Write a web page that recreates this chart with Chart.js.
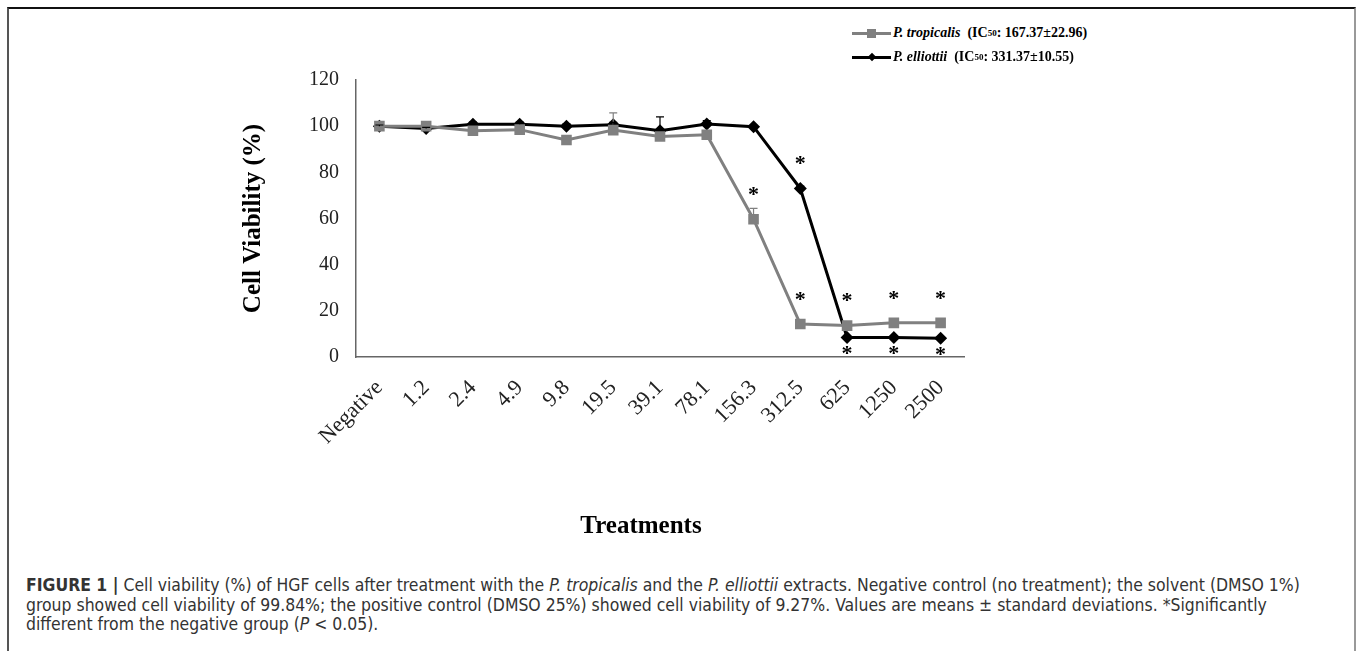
<!DOCTYPE html>
<html>
<head>
<meta charset="utf-8">
<script src="https://cdn.jsdelivr.net/npm/chart.js@4.4.1/dist/chart.umd.min.js"></script>
<style>
  body { margin: 0; background: #fff; }
  #wrap { position: relative; width: 1357px; height: 651px; overflow: hidden; background: #fff; }
  #frame { position: absolute; left: 7px; top: 7px; width: 1349px; height: 700px; box-sizing: border-box;
           border-top: 2px solid #111; border-left: 2px solid #555; border-right: 2px solid #999; }
  #cv { position: absolute; left: 235px; top: 51px; }
  .leg { position: absolute; left: 852px; height: 20px; display: flex; align-items: center;
         font: bold 14px "Liberation Serif", "Times New Roman", serif; color: #000; white-space: nowrap; }
  .leg .smp { position: relative; width: 39px; height: 3px; margin-right: 2px; }
  .leg .mk { position: absolute; left: 50%; top: 50%; }
  .leg sub { font-size: 9px; vertical-align: -2px; line-height: 0; }
  #xt { position: absolute; left: 641px; top: 525px; transform: translate(-50%, -50%);
        font: bold 25px "Liberation Serif", "Times New Roman", serif; color: #000; white-space: nowrap; }
  #cap { position: absolute; left: 26px; top: 576px; transform-origin: 0 0;
         font: 17px "Liberation Sans Narrow", "DejaVu Sans Condensed", "Liberation Sans", sans-serif;
         color: #333; line-height: 19.5px; white-space: nowrap; }
</style>
</head>
<body>
<div id="wrap">
  <div id="frame"></div>
  <canvas id="cv" width="761" height="479"></canvas>
  <div class="leg" style="top:23px">
    <span class="smp" style="background:#808080"><span class="mk" style="width:9px;height:9px;margin:-4.5px 0 0 -4.5px;background:#808080"></span></span>
    <i>P. tropicalis</i>&nbsp; (IC<sub>50</sub>: 167.37±22.96)
  </div>
  <div class="leg" style="top:47px">
    <span class="smp" style="background:#000"><span class="mk" style="width:6px;height:6px;margin:-3px 0 0 -3px;background:#000;transform:rotate(45deg)"></span></span>
    <i>P. elliottii</i>&nbsp; (IC<sub>50</sub>: 331.37±10.55)
  </div>
  <div id="xt">Treatments</div>
  <div id="cap">
    <div id="cap1"><b>FIGURE 1 |</b> Cell viability (%) of HGF cells after treatment with the <i>P. tropicalis</i> and the <i>P. elliottii</i> extracts. Negative control (no treatment); the solvent (DMSO 1%)</div>
    <div>group showed cell viability of 99.84%; the positive control (DMSO 25%) showed cell viability of 9.27%. Values are means ± standard deviations. *Significantly</div>
    <div>different from the negative group (<i>P</i> &lt; 0.05).</div>
  </div>
</div>
<script>
const treatments = ['Negative', '1.2', '2.4', '4.9', '9.8', '19.5', '39.1', '78.1', '156.3', '312.5', '625', '1250', '2500'];
const tropicalis    = [100, 100, 98, 98.5, 94, 98.3, 95.5, 96.3, 59.7, 14.3, 13.6, 14.8, 14.8];
const tropicalisErr = [0.5, 0.5, 1, 1, 1, 7.5, 1, 1, 4.7, 1, 1, 1, 1];
const tropicalisSig = ['', '', '', '', '', '', '', '', 'up', 'up', 'up', 'up', 'up'];
const elliottii     = [100, 99, 100.8, 100.8, 100, 100.6, 98, 100.9, 99.8, 73, 8.5, 8.5, 8.1];
const elliottiiErr  = [0.5, 0.5, 1, 1, 1, 1, 6, 1.5, 0.5, 1, 0.5, 0.5, 0.5];
const elliottiiSig  = ['', '', '', '', '', '', '', '', '', 'up', 'down', 'down', 'down'];
const yTicks = [0, 20, 40, 60, 80, 100, 120];

const SERIF = '"Liberation Serif", "Times New Roman", serif';

// upward whiskers (mean + SD) like the Excel original
const errorBars = {
  id: 'errorBars',
  afterDatasetsDraw(chart) {
    const { ctx } = chart;
    const ys = chart.scales.y;
    chart.data.datasets.forEach((ds, i) => {
      const meta = chart.getDatasetMeta(i);
      ctx.save();
      ctx.strokeStyle = ds.borderColor;
      ctx.lineWidth = 1.2;
      meta.data.forEach((pt, j) => {
        const e = ds.errs[j];
        if (!e) return;
        const top = ys.getPixelForValue(ds.data[j] + e);
        ctx.beginPath();
        ctx.moveTo(pt.x, pt.y);
        ctx.lineTo(pt.x, top);
        ctx.moveTo(pt.x - 4, top);
        ctx.lineTo(pt.x + 4, top);
        ctx.stroke();
      });
      ctx.restore();
    });
  }
};

// significance asterisks
const stars = {
  id: 'stars',
  afterDatasetsDraw(chart) {
    const { ctx } = chart;
    ctx.save();
    ctx.fillStyle = '#000';
    ctx.font = 'bold 22px ' + SERIF;
    ctx.textAlign = 'center';
    ctx.textBaseline = 'middle';
    chart.data.datasets.forEach((ds, i) => {
      const meta = chart.getDatasetMeta(i);
      meta.data.forEach((pt, j) => {
        const s = ds.sig[j];
        if (!s) return;
        const y = s === 'up' ? pt.y - 29 : pt.y + 12;
        ctx.fillText('*', pt.x, y + 5);
      });
    });
    ctx.restore();
  }
};

new Chart(document.getElementById('cv'), {
  type: 'line',
  data: {
    labels: treatments,
    datasets: [
      { label: 'P. tropicalis', data: tropicalis, errs: tropicalisErr, sig: tropicalisSig,
        borderColor: '#808080', backgroundColor: '#808080', borderWidth: 3,
        pointStyle: 'rect', pointRadius: 7.5, pointBorderWidth: 0, tension: 0 },
      { label: 'P. elliottii', data: elliottii, errs: elliottiiErr, sig: elliottiiSig,
        borderColor: '#000', backgroundColor: '#000', borderWidth: 3,
        pointStyle: 'rectRot', pointRadius: 6.5, pointBorderWidth: 0, tension: 0 }
    ]
  },
  options: {
    responsive: false,
    animation: false,
    layout: { padding: { top: 12, right: 32, left: 0, bottom: 0 } },
    plugins: { legend: { display: false }, tooltip: { enabled: false } },
    scales: {
      x: {
        offset: true,
        grid: { display: false, drawTicks: false },
        border: { color: '#666', width: 1.5 },
        ticks: { autoSkip: false, minRotation: 45, maxRotation: 45, padding: 18, color: '#222',
                 font: { family: SERIF, size: 22 } },
        afterFit(s) { s.height = 173; }
      },
      y: {
        min: 0, max: 120,
        afterBuildTicks(s) { s.ticks = yTicks.map(v => ({ value: v })); },
        grid: { display: false, drawTicks: false },
        border: { color: '#666', width: 1.5 },
        ticks: { padding: 17, color: '#222', font: { family: SERIF, size: 20 } },
        title: { display: true, text: 'Cell Viability (%)', color: '#000',
                 font: { family: SERIF, size: 25, weight: 'bold' }, padding: { top: 4, bottom: 4 } },
        afterFit(s) { s.width = 121; }
      }
    }
  },
  plugins: [errorBars, stars]
});

// squeeze caption so the first line spans the same width as the original
const cap = document.getElementById('cap');
const w = document.getElementById('cap1').scrollWidth;
cap.style.transform = 'scaleX(' + (1274 / w) + ')';
</script>
</body>
</html>
